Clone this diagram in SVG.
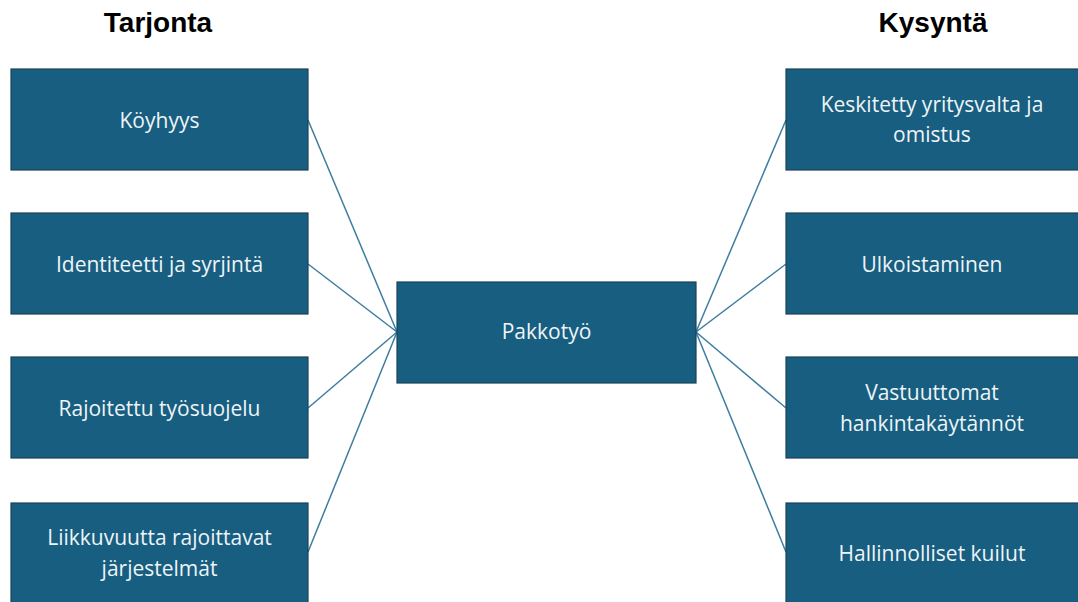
<svg xmlns="http://www.w3.org/2000/svg" width="1078" height="602" viewBox="0 0 1078 602">
  <style>
    .box { fill: #175e80; stroke: #1b4157; stroke-width: 1.2; }
    .lbl { fill: #eef4f7; font-family: "Open Sans", "Liberation Sans", sans-serif; font-size: 21px; text-anchor: middle; }
    .head { fill: #000; font-family: "Liberation Sans", Arial, sans-serif; font-weight: bold; font-size: 28px; text-anchor: middle; }
    .link { stroke: #3d7d9e; stroke-width: 1.5; fill: none; }
  </style>
  <rect width="1078" height="602" fill="#fff"/>

  <text class="head" x="158" y="32">Tarjonta</text>
  <text class="head" x="933" y="32">Kysyntä</text>

  <g id="connectors">
    <line class="link" x1="308" y1="120" x2="397" y2="332"/>
    <line class="link" x1="308" y1="264" x2="397" y2="332"/>
    <line class="link" x1="308" y1="408" x2="397" y2="332"/>
    <line class="link" x1="308" y1="552" x2="397" y2="332"/>
    <line class="link" x1="786" y1="120" x2="696" y2="332"/>
    <line class="link" x1="786" y1="264" x2="696" y2="332"/>
    <line class="link" x1="786" y1="408" x2="696" y2="332"/>
    <line class="link" x1="786" y1="552" x2="696" y2="332"/>
  </g>

  <g id="koyhyys">
    <rect class="box" x="11" y="69" width="297" height="101"/>
    <text class="lbl" x="159.5" y="128">Köyhyys</text>
  </g>
  <g id="identiteetti">
    <rect class="box" x="11" y="213" width="297" height="101"/>
    <text class="lbl" x="159.5" y="272">Identiteetti ja syrjintä</text>
  </g>
  <g id="tyosuojelu">
    <rect class="box" x="11" y="357" width="297" height="101"/>
    <text class="lbl" x="159.5" y="416">Rajoitettu työsuojelu</text>
  </g>
  <g id="liikkuvuus">
    <rect class="box" x="11" y="503" width="297" height="101"/>
    <text class="lbl" x="159.5" y="545">Liikkuvuutta rajoittavat</text>
    <text class="lbl" x="159.5" y="576">järjestelmät</text>
  </g>

  <g id="pakkotyo">
    <rect class="box" x="397" y="282" width="299" height="101"/>
    <text class="lbl" x="546.5" y="339">Pakkotyö</text>
  </g>

  <g id="yritysvalta">
    <rect class="box" x="786" y="69" width="297" height="101"/>
    <text class="lbl" x="932" y="112">Keskitetty yritysvalta ja</text>
    <text class="lbl" x="932" y="142">omistus</text>
  </g>
  <g id="ulkoistaminen">
    <rect class="box" x="786" y="213" width="297" height="101"/>
    <text class="lbl" x="932" y="272">Ulkoistaminen</text>
  </g>
  <g id="hankinta">
    <rect class="box" x="786" y="357" width="297" height="101"/>
    <text class="lbl" x="932" y="400">Vastuuttomat</text>
    <text class="lbl" x="932" y="431">hankintakäytännöt</text>
  </g>
  <g id="hallinto">
    <rect class="box" x="786" y="503" width="297" height="101"/>
    <text class="lbl" x="932" y="561">Hallinnolliset kuilut</text>
  </g>
</svg>
